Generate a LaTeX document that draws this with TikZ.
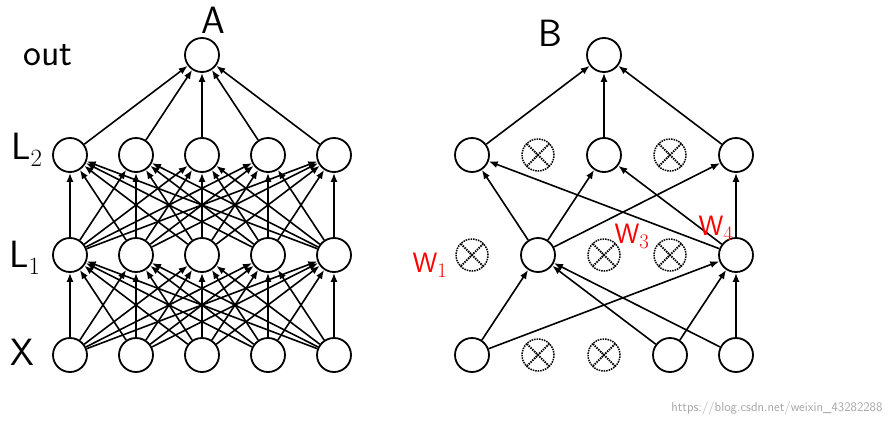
\documentclass[tikz,border=0pt]{standalone}
\usetikzlibrary{arrows.meta}
\begin{document}
\begin{tikzpicture}[x=1pt,y=-1pt,
  neu/.style={circle,draw,line width=1.8pt,minimum size=34pt,inner sep=0pt},
  drop/.style={circle,draw,densely dotted,line width=1.5pt,minimum size=32pt,inner sep=0pt,
    path picture={\draw[line width=1.8pt] (path picture bounding box.center)++(-11pt,-11pt) -- ++(22pt,22pt);
                  \draw[line width=1.8pt] (path picture bounding box.center)++(-11pt,11pt) -- ++(22pt,-22pt);}},
  con/.style={-{Latex[length=9pt,width=7pt]},line width=1.6pt},
  hand/.style={font=\sffamily\fontsize{38}{38}\selectfont},
  red/.style={text=red,font=\sffamily\fontsize{28}{28}\selectfont}]
\useasboundingbox[fill=white] (0,0) rectangle (892,426);
% Left network
\node[neu] (ao) at (202,55) {};
\foreach \i/\x in {1/70,2/136,3/202,4/268,5/334}{
  \node[neu] (a2\i) at (\x,155) {};
  \node[neu] (a1\i) at (\x,255) {};
  \node[neu] (a0\i) at (\x,355) {};
}
\foreach \i in {1,...,5}{
  \draw[con] (a2\i) -- (ao);
  \foreach \j in {1,...,5}{
    \draw[con] (a1\i) -- (a2\j);
    \draw[con] (a0\i) -- (a1\j);
  }
}
% Right network
\node[neu] (bo) at (604,55) {};
\node[neu] (b21) at (472,155) {};
\node[drop] (b22) at (538,155) {};
\node[neu] (b23) at (604,155) {};
\node[drop] (b24) at (670,155) {};
\node[neu] (b25) at (736,155) {};
\node[drop] (b11) at (472,255) {};
\node[neu] (b12) at (538,255) {};
\node[drop] (b13) at (604,255) {};
\node[drop] (b14) at (670,255) {};
\node[neu] (b15) at (736,255) {};
\node[neu] (b01) at (472,355) {};
\node[drop] (b02) at (538,355) {};
\node[drop] (b03) at (604,355) {};
\node[neu] (b04) at (670,355) {};
\node[neu] (b05) at (736,355) {};
\foreach \a/\b in {b01/b12,b01/b15,b04/b12,b05/b12,b04/b15,b05/b15,
  b12/b21,b12/b23,b12/b25,b15/b21,b15/b23,b15/b25,b21/bo,b23/bo,b25/bo}
  \draw[con] (\a) -- (\b);
% handwritten labels
\node[hand] (tout) at (48,55) {out};
\node[hand] (tA) at (213,20) {A};
\node[hand] (tB) at (550,33) {B};
\node[hand] (tL2) at (27,150) {L$_2$};
\node[hand] (tL1) at (25,258) {L$_1$};
\node[hand] (tX) at (22,352) {X};
\node[red] (tw1) at (430,265) {W$_1$};
\node[red] (tw3) at (632,236) {W$_3$};
\node[red] (tw4) at (716,228) {W$_4$};
\node[text=gray!70,font=\sffamily\fontsize{13}{13}\selectfont,anchor=east] (wm) at (886,408) {https://blog.csdn.net/weixin\_43282288};
\end{tikzpicture}
\end{document}
